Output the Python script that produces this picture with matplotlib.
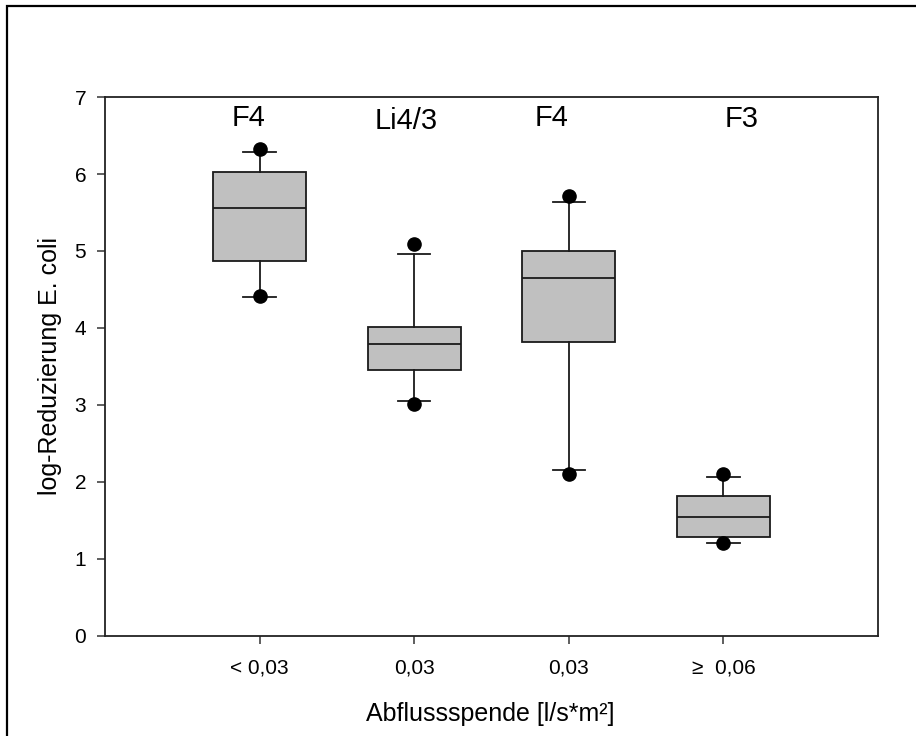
import matplotlib
matplotlib.use('Agg')
import matplotlib.pyplot as plt
from matplotlib.patches import Rectangle

plt.rcParams['font.family'] = ['Liberation Sans', 'DejaVu Sans']

# ---------------------------------------------------------------------------
# Data: box statistics per discharge class
# ---------------------------------------------------------------------------
categories = ['< 0,03', '0,03', '0,03', '\u2265  0,06']
filters = ['F4', 'Li4/3', 'F4', 'F3']

q1 = [4.87, 3.46, 3.82, 1.29]
median = [5.56, 3.79, 4.65, 1.54]
q3 = [6.03, 4.01, 5.00, 1.82]
whisker_lo = [4.40, 3.05, 2.16, 1.21]
whisker_hi = [6.29, 4.96, 5.64, 2.07]
outlier_lo = [4.42, 3.01, 2.11, 1.21]
outlier_hi = [6.32, 5.09, 5.71, 2.11]

# small horizontal nudges for the filter labels above the boxes
label_dx = [-0.07, -0.05, -0.11, 0.12]
label_y = [6.73, 6.69, 6.73, 6.72]

positions = list(range(1, len(categories) + 1))

stats = []
for i in range(len(categories)):
    stats.append({
        'med': median[i], 'q1': q1[i], 'q3': q3[i],
        'whislo': whisker_lo[i], 'whishi': whisker_hi[i],
        'fliers': [outlier_lo[i], outlier_hi[i]],
    })

fig = plt.figure(figsize=(9.16, 7.36), dpi=100)
ax = fig.add_axes([0.1146, 0.1359, 0.8439, 0.7323])

ax.bxp(stats, positions=positions, widths=0.6, patch_artist=True,
       boxprops=dict(facecolor='#c0c0c0', edgecolor='#1a1a1a', linewidth=1.3),
       medianprops=dict(color='#1a1a1a', linewidth=1.3),
       whiskerprops=dict(color='#1a1a1a', linewidth=1.3),
       capprops=dict(color='#1a1a1a', linewidth=1.3),
       capwidths=0.21,
       flierprops=dict(marker='o', markerfacecolor='black',
                       markeredgecolor='black', markersize=9.5))

for i, txt in enumerate(filters):
    ax.text(positions[i] + label_dx[i], label_y[i], txt, ha='center',
            va='center', fontsize=21)

ax.set_xlim(0, 5)
ax.set_ylim(0, 7)
ax.set_yticks(range(0, 8))
ax.set_xticks(positions)
ax.set_xticklabels(categories)

ax.tick_params(axis='both', direction='out', length=6, width=1.1,
               color='#333333', labelsize=15)
ax.tick_params(axis='y', pad=7.5)
ax.tick_params(axis='x', pad=10)

for side, sp in ax.spines.items():
    sp.set_linewidth(1.3)
    sp.set_color('#222222')

ax.set_ylabel('log-Reduzierung E. coli', fontsize=18)
ax.set_xlabel('Abflussspende [l/s*m\u00b2]', fontsize=18)
ax.yaxis.set_label_coords(-0.0556, 0.5)
ax.xaxis.set_label_coords(0.4987, -0.1224)

# outer frame of the figure
frame = Rectangle((7 / 916, -0.02), 1.05, 1 - 6 / 736 + 0.02,
                  transform=fig.transFigure, fill=False,
                  edgecolor='black', linewidth=1.6, clip_on=False)
fig.patches.append(frame)

fig.savefig('out.png', dpi=100)
